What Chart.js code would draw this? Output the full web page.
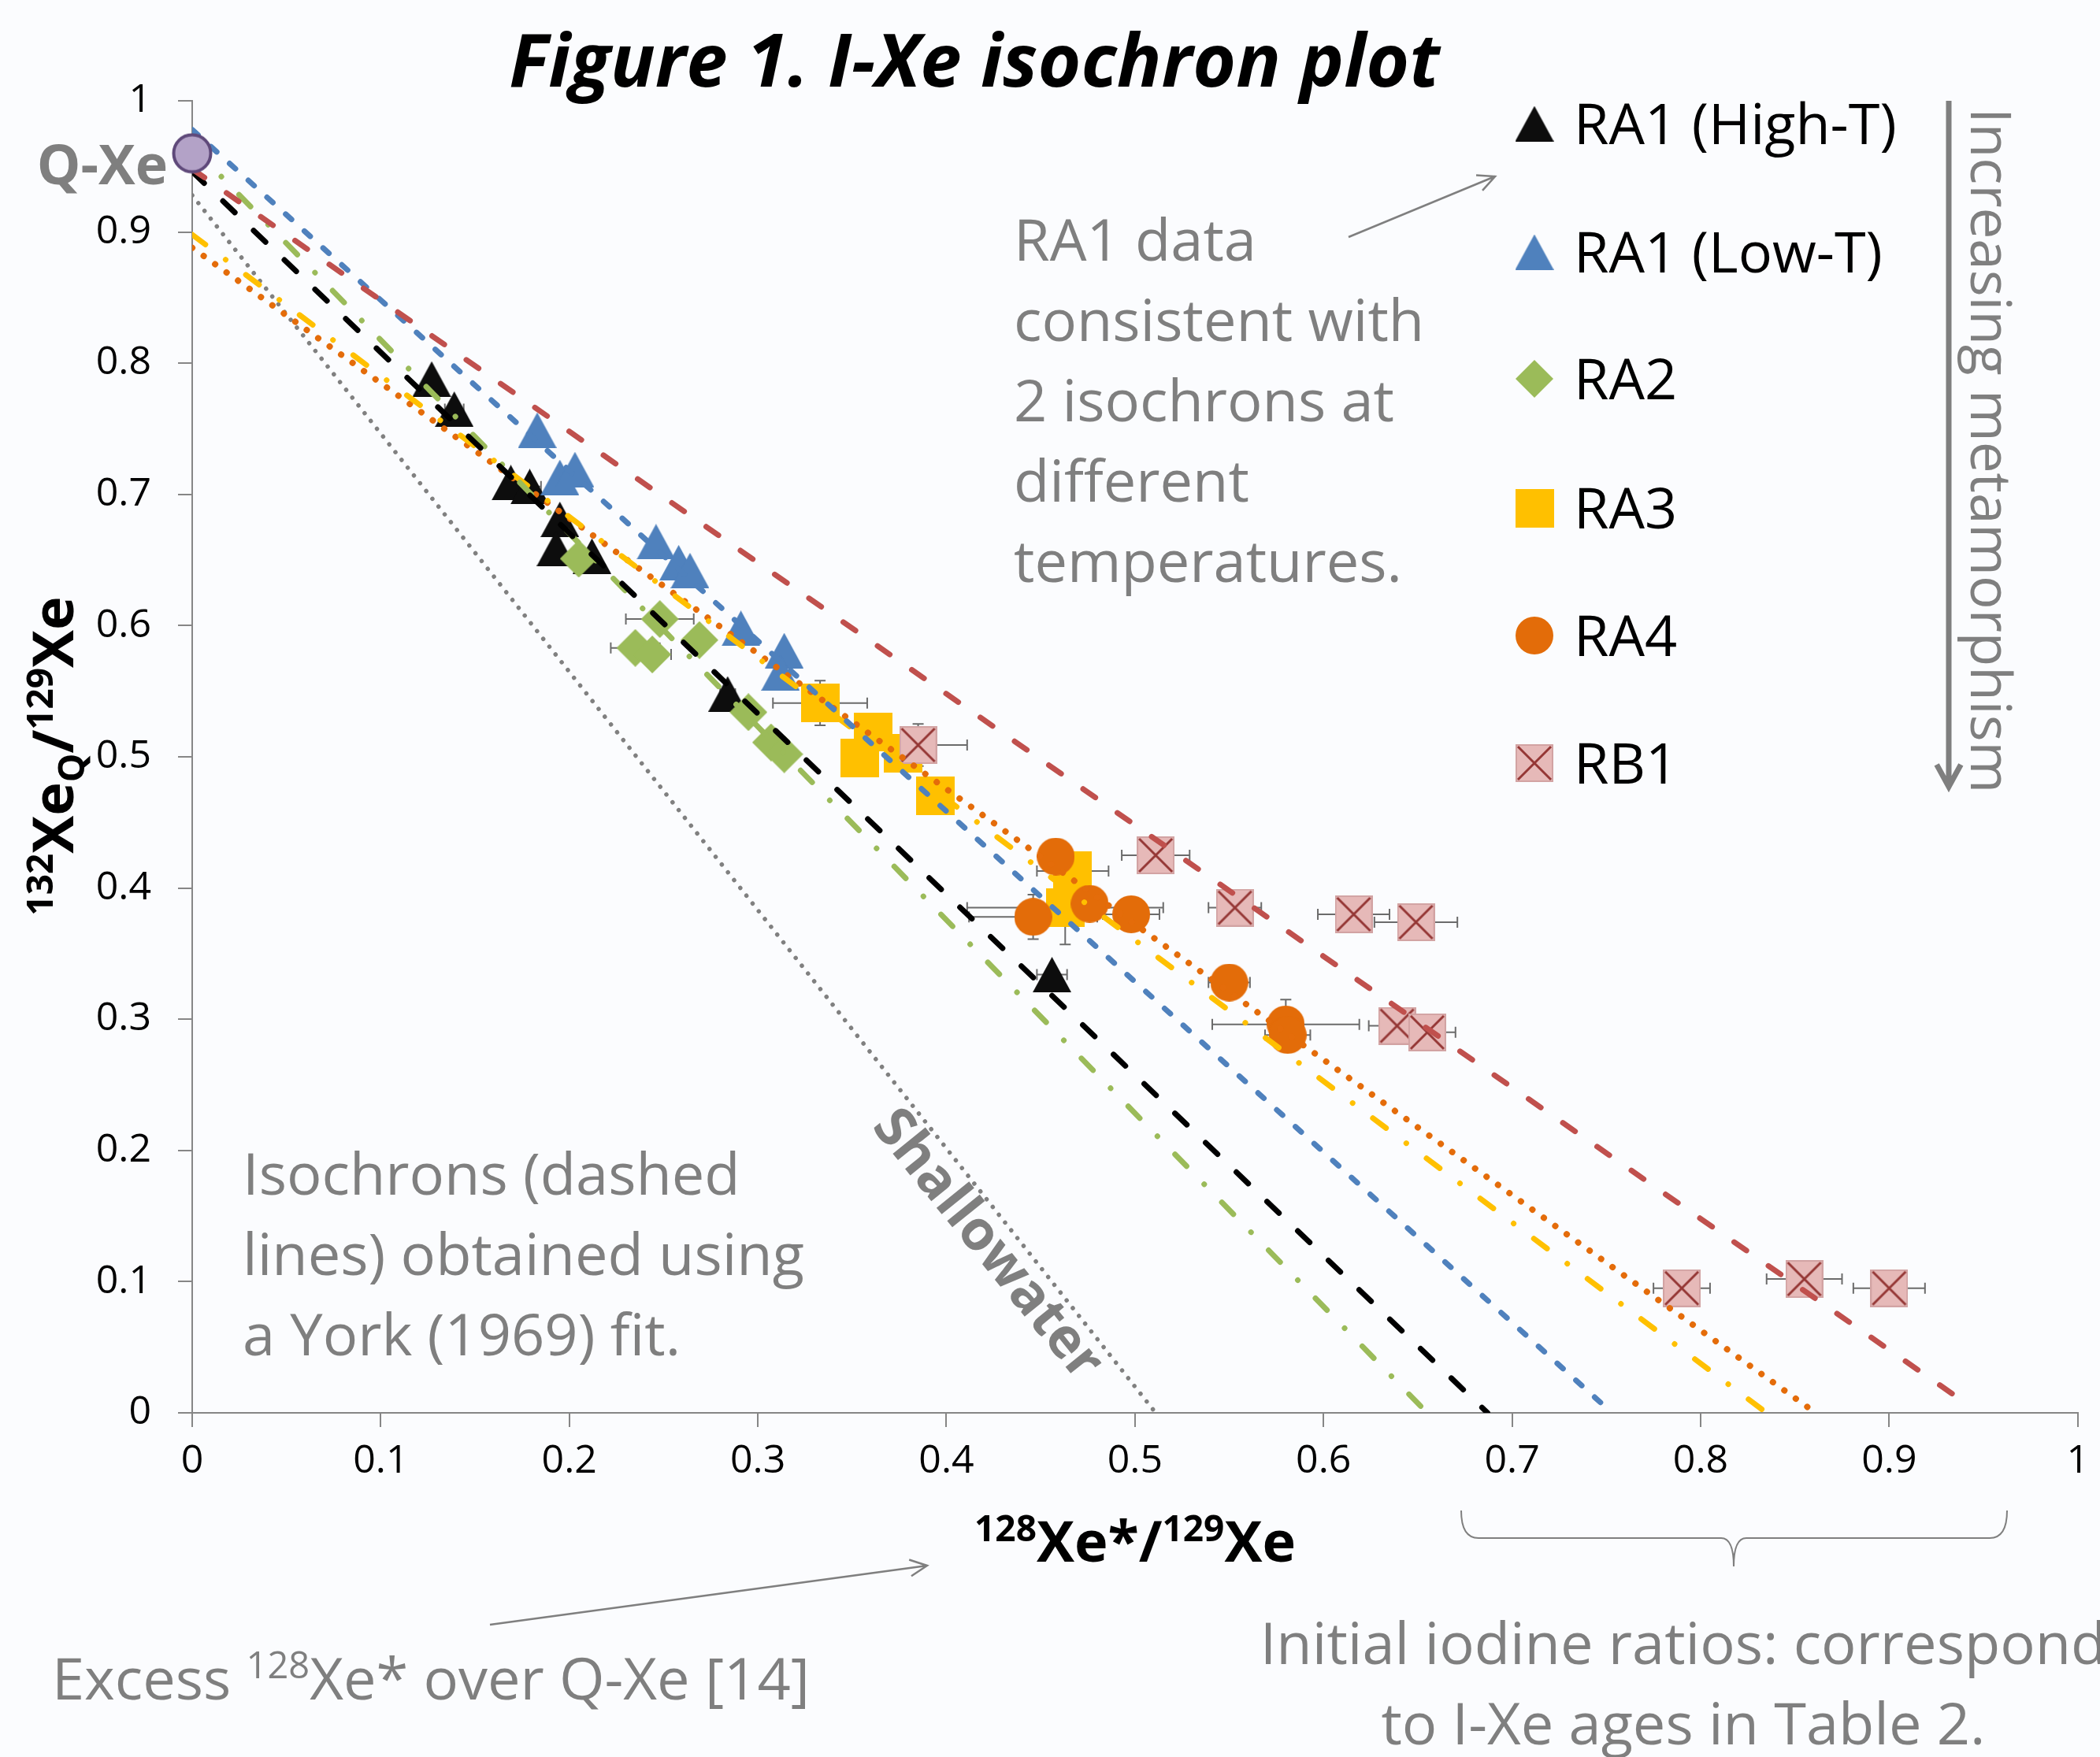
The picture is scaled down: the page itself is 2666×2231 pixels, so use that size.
<!DOCTYPE html>
<html>
<head>
<meta charset="utf-8">
<title>Figure 1. I-Xe isochron plot</title>
<script src="https://cdn.jsdelivr.net/npm/chart.js@4.4.1/dist/chart.umd.min.js"></script>
<style>
    html, body { margin: 0; padding: 0; background: #fbfcfe; }
    #wrap { width: 2666px; height: 2231px; }
</style>
</head>
<body>
<div id="wrap"><canvas id="isochronChart" width="2666" height="2231"></canvas></div>
<script>
// ---- values ----
const tickLabels = ['0', '0.1', '0.2', '0.3', '0.4', '0.5', '0.6', '0.7', '0.8', '0.9', '1'];
const seriesNames = ['RA1 (High-T)', 'RA1 (Low-T)', 'RA2', 'RA3', 'RA4', 'RB1'];

const highTX = [0.127, 0.139, 0.169, 0.179, 0.195, 0.193, 0.212, 0.284, 0.456];
const highTY = [0.788, 0.765, 0.709, 0.706, 0.681, 0.659, 0.653, 0.548, 0.334];
const highTXErr = [0, 0.005, 0, 0.006, 0, 0, 0, 0.004, 0.008];

const lowTX = [0.183, 0.195, 0.203, 0.246, 0.258, 0.264, 0.291, 0.314, 0.312];
const lowTY = [0.749, 0.713, 0.719, 0.664, 0.648, 0.642, 0.598, 0.581, 0.564];

const ra2X = [0.205, 0.248, 0.235, 0.244, 0.269, 0.295, 0.307, 0.314];
const ra2Y = [0.651, 0.605, 0.583, 0.578, 0.589, 0.534, 0.511, 0.502];
const ra2XErr = [0, 0.018, 0.013, 0.010, 0, 0, 0, 0];

const ra3X = [0.333, 0.361, 0.354, 0.377, 0.394, 0.467, 0.463];
const ra3Y = [0.541, 0.519, 0.499, 0.503, 0.470, 0.413, 0.385];
const ra3XErr = [0.025, 0, 0, 0, 0, 0.019, 0.052];
const ra3YErr = [0.017, 0, 0, 0, 0, 0, 0.028];

const ra4X = [0.458, 0.446, 0.476, 0.498, 0.550, 0.580, 0.581];
const ra4Y = [0.424, 0.378, 0.388, 0.380, 0.328, 0.296, 0.288];
const ra4XErr = [0, 0.034, 0, 0.015, 0.011, 0.039, 0.012];
const ra4YErr = [0, 0.017, 0, 0, 0, 0.019, 0];

const rb1X = [0.385, 0.511, 0.553, 0.616, 0.649, 0.639, 0.655, 0.790, 0.855, 0.900];
const rb1Y = [0.509, 0.425, 0.385, 0.380, 0.374, 0.295, 0.290, 0.095, 0.102, 0.095];
const rb1XErr = [0.026, 0.018, 0.014, 0.019, 0.022, 0.015, 0.015, 0.015, 0.020, 0.019];
const rb1YErr = [0.016, 0, 0, 0, 0, 0, 0, 0, 0, 0];

const qXeX = [0];
const qXeY = [0.960];

// isochrons: start at x = 0, end where the fitted line stops
const isoNames = ['RB1', 'RA1 (Low-T)', 'RA1 (High-T)', 'RA2', 'RA3', 'RA4', 'Shallowater'];
const isoStartY = [0.948, 0.978, 0.946, 0.965, 0.898, 0.888, 0.928];
const isoEndX = [0.937, 0.753, 0.687, 0.655, 0.835, 0.861, 0.511];
const isoEndY = [0.011, 0, 0, 0, 0, 0, 0];

// ---- styles ----
const FONT = "'Open Sans', 'Noto Sans', sans-serif";
const GREY = '#7f7f7f';
const AXIS = '#868686';

const isoStyles = [
    { color: '#c0504d', dash: [19, 34], width: 7 },
    { color: '#4f81bd', dash: [10, 22], width: 7 },
    { color: '#000000', dash: [21, 33], width: 7 },
    { color: '#9bbb59', dash: [21, 32, 0.1, 32], width: 7 },
    { color: '#ffc000', dash: [21, 32, 0.1, 32], width: 7 },
    { color: '#e46c0a', dash: [0.1, 17.8], width: 8 },
    { color: '#808080', dash: [0.1, 12.5], width: 5.5 }
];

/**
 * Builds a marker bitmap used as a Chart.js pointStyle
 */
function makeMarker(shape, w, h, fill) {
    const c = document.createElement('canvas');
    c.width = w;
    c.height = h;
    const g = c.getContext('2d');
    g.fillStyle = fill;
    g.beginPath();
    if (shape === 'triangle') {
        g.moveTo(w / 2, 0);
        g.lineTo(w, h);
        g.lineTo(0, h);
        g.closePath();
        g.fill();
    } else if (shape === 'diamond') {
        g.moveTo(w / 2, 0);
        g.lineTo(w, h / 2);
        g.lineTo(w / 2, h);
        g.lineTo(0, h / 2);
        g.closePath();
        g.fill();
    } else if (shape === 'circle') {
        g.arc(w / 2, h / 2, w / 2, 0, Math.PI * 2);
        g.fill();
    } else if (shape === 'square') {
        g.fillRect(0, 0, w, h);
    } else if (shape === 'xsquare') {
        g.fillRect(0, 0, w, h);
        g.strokeStyle = '#d2a3a3';
        g.lineWidth = 2;
        g.strokeRect(1, 1, w - 2, h - 2);
        g.strokeStyle = '#953735';
        g.lineWidth = 3;
        g.beginPath();
        g.moveTo(3, 3); g.lineTo(w - 3, h - 3);
        g.moveTo(w - 3, 3); g.lineTo(3, h - 3);
        g.stroke();
    } else if (shape === 'qxe') {
        g.arc(w / 2, h / 2, w / 2 - 2.5, 0, Math.PI * 2);
        g.fill();
        g.strokeStyle = '#5f497a';
        g.lineWidth = 4;
        g.stroke();
    }
    return c;
}

const markers = {
    highT: makeMarker('triangle', 49, 45, '#0d0d0d'),
    lowT: makeMarker('triangle', 49, 45, '#4f81bd'),
    ra2: makeMarker('diamond', 48, 48, '#9bbb59'),
    ra3: makeMarker('square', 49, 49, '#ffc000'),
    ra4: makeMarker('circle', 48, 48, '#e36c09'),
    rb1: makeMarker('xsquare', 48, 48, '#e6b9b8'),
    qxe: makeMarker('qxe', 52, 52, '#b3a2c7')
};

function pts(xs, ys) {
    return xs.map((x, i) => ({ x: x, y: ys[i] }));
}

function seriesSet(label, xs, ys, marker, errX, errY) {
    return {
        label: label,
        data: pts(xs, ys),
        pointStyle: marker,
        pointRadius: 24,
        errX: errX || null,
        errY: errY || null
    };
}

// first dataset is drawn on top
const datasets = [];
datasets.push({ label: 'Q-Xe', data: pts(qXeX, qXeY), pointStyle: markers.qxe, pointRadius: 25, clip: false });
isoNames.forEach((name, i) => {
    datasets.push({
        label: name + ' isochron',
        data: [{ x: 0, y: isoStartY[i] }, { x: isoEndX[i], y: isoEndY[i] }],
        showLine: true,
        pointRadius: 0,
        borderColor: isoStyles[i].color,
        borderWidth: isoStyles[i].width,
        borderDash: isoStyles[i].dash,
        borderCapStyle: 'round'
    });
});
datasets.push(seriesSet(seriesNames[5], rb1X, rb1Y, markers.rb1, rb1XErr, rb1YErr));
datasets.push(seriesSet(seriesNames[4], ra4X, ra4Y, markers.ra4, ra4XErr, ra4YErr));
datasets.push(seriesSet(seriesNames[3], ra3X, ra3Y, markers.ra3, ra3XErr, ra3YErr));
datasets.push(seriesSet(seriesNames[2], ra2X, ra2Y, markers.ra2, ra2XErr));
datasets.push(seriesSet(seriesNames[1], lowTX, lowTY, markers.lowT));
datasets.push(seriesSet(seriesNames[0], highTX, highTY, markers.highT, highTXErr));

const legendMarkers = [markers.highT, markers.lowT, markers.ra2, markers.ra3, markers.ra4, markers.rb1];

// ---- plugins ----
const background = {
    id: 'background',
    beforeDraw(chart) {
        const c = chart.ctx;
        c.save();
        c.fillStyle = '#fbfcfe';
        c.fillRect(0, 0, chart.width, chart.height);
        c.restore();
    }
};

const errorBars = {
    id: 'errorBars',
    beforeDatasetsDraw(chart) {
        const c = chart.ctx;
        const xs = chart.scales.x;
        const ys = chart.scales.y;
        const cap = 7;
        c.save();
        c.strokeStyle = '#6b6b6b';
        c.lineWidth = 2;
        chart.data.datasets.forEach(ds => {
            ds.data.forEach((p, i) => {
                const px = xs.getPixelForValue(p.x);
                const py = ys.getPixelForValue(p.y);
                const ex = ds.errX ? ds.errX[i] : 0;
                const ey = ds.errY ? ds.errY[i] : 0;
                c.beginPath();
                if (ex) {
                    const l = xs.getPixelForValue(p.x - ex);
                    const r = xs.getPixelForValue(p.x + ex);
                    c.moveTo(l, py); c.lineTo(r, py);
                    c.moveTo(l, py - cap); c.lineTo(l, py + cap);
                    c.moveTo(r, py - cap); c.lineTo(r, py + cap);
                }
                if (ey) {
                    const t = ys.getPixelForValue(p.y + ey);
                    const b = ys.getPixelForValue(p.y - ey);
                    c.moveTo(px, t); c.lineTo(px, b);
                    c.moveTo(px - cap, t); c.lineTo(px + cap, t);
                    c.moveTo(px - cap, b); c.lineTo(px + cap, b);
                }
                c.stroke();
            });
        });
        c.restore();
    }
};

/**
 * Draws text with superscript / subscript pieces: parts = [[text, 'sup'|'sub'|''], ...]
 */
function drawRich(c, parts, x, y, size, weight, align) {
    const small = Math.round(size * 0.64);
    const widths = parts.map(([t, k]) => {
        c.font = weight + ' ' + (k ? small : size) + 'px ' + FONT;
        return c.measureText(t).width;
    });
    const total = widths.reduce((a, b) => a + b, 0);
    let cx = align === 'center' ? x - total / 2 : (align === 'right' ? x - total : x);
    c.textAlign = 'left';
    c.textBaseline = 'alphabetic';
    parts.forEach(([t, k], i) => {
        c.font = weight + ' ' + (k ? small : size) + 'px ' + FONT;
        const dy = k === 'sup' ? -size * 0.36 : (k === 'sub' ? size * 0.2 : 0);
        c.fillText(t, cx, y + dy);
        cx += widths[i];
    });
}

function arrow(c, x1, y1, x2, y2, head, spread) {
    const a = Math.atan2(y2 - y1, x2 - x1);
    c.beginPath();
    c.moveTo(x1, y1);
    c.lineTo(x2, y2);
    c.moveTo(x2 - head * Math.cos(a - spread), y2 - head * Math.sin(a - spread));
    c.lineTo(x2, y2);
    c.lineTo(x2 - head * Math.cos(a + spread), y2 - head * Math.sin(a + spread));
    c.stroke();
}

const annotations = {
    id: 'annotations',
    afterDraw(chart) {
        const c = chart.ctx;
        c.save();

        // title
        c.fillStyle = '#000';
        c.font = 'italic bold 94px ' + FONT;
        c.textAlign = 'center';
        c.textBaseline = 'alphabetic';
        c.fillText('Figure 1. I-Xe isochron plot', 1237, 110);

        // axis titles
        drawRich(c, [['128', 'sup'], ['Xe', ''], ['*', ''], ['/', ''], ['129', 'sup'], ['Xe', '']], 1441, 1983, 72, 'bold', 'center');
        c.save();
        c.translate(93, 960);
        c.rotate(-Math.PI / 2);
        drawRich(c, [['132', 'sup'], ['Xe', ''], ['Q', 'sub'], ['/', ''], ['129', 'sup'], ['Xe', '']], 0, 0, 72, 'bold', 'center');
        c.restore();

        // legend
        const rows = [157, 320, 481, 645, 807, 969];
        seriesNames.forEach((name, i) => {
            const m = legendMarkers[i];
            c.drawImage(m, 1948 - m.width / 2, rows[i] - m.height / 2);
            c.fillStyle = '#000';
            c.font = '72px ' + FONT;
            c.textAlign = 'left';
            c.fillText(name, 1998, rows[i] + 26);
        });

        c.fillStyle = GREY;
        c.strokeStyle = GREY;

        // Q-Xe label
        c.font = 'bold 70px ' + FONT;
        c.textAlign = 'right';
        c.fillText('Q-Xe', 213, 234);

        // grey notes
        c.font = '74px ' + FONT;
        c.textAlign = 'left';
        ['RA1 data', 'consistent with', '2 isochrons at', 'different', 'temperatures.'].forEach((t, i) => {
            c.fillText(t, 1287, 331 + i * 102);
        });
        ['Isochrons (dashed', 'lines) obtained using', 'a York (1969) fit.'].forEach((t, i) => {
            c.fillText(t, 308, 1517 + i * 102);
        });
        drawRich(c, [['Excess ', ''], ['128', 'sup'], ['Xe* over Q-Xe [14]', '']], 66, 2158, 74, 'normal', 'left');
        c.fillStyle = GREY;
        c.font = '74px ' + FONT;
        c.textAlign = 'center';
        c.fillText('Initial iodine ratios: correspond', 2137, 2113);
        c.fillText('to I-Xe ages in Table 2.', 2137, 2215);

        // thin arrows
        c.lineWidth = 2.5;
        arrow(c, 1712, 301, 1898, 224, 24, 0.45);
        arrow(c, 622, 2063, 1177, 1988, 24, 0.45);

        // brace under the initial ratios
        c.lineWidth = 2;
        c.beginPath();
        c.moveTo(1855, 1918);
        c.quadraticCurveTo(1855, 1953, 1877, 1953);
        c.lineTo(2185, 1953);
        c.quadraticCurveTo(2201, 1953, 2201, 1989);
        c.quadraticCurveTo(2201, 1953, 2217, 1953);
        c.lineTo(2526, 1953);
        c.quadraticCurveTo(2548, 1953, 2548, 1918);
        c.stroke();

        // increasing metamorphism arrow + label
        c.lineWidth = 7;
        arrow(c, 2474, 128, 2474, 999, 32, 0.5);
        c.save();
        c.translate(2502, 137);
        c.rotate(Math.PI / 2);
        c.font = '71px ' + FONT;
        c.textAlign = 'left';
        c.textBaseline = 'alphabetic';
        c.fillText('Increasing metamorphism', 0, 0);
        c.restore();

        // Shallowater label along the dotted line
        c.save();
        c.translate(1253, 1581);
        c.rotate(51 * Math.PI / 180);
        c.font = 'bold 70px ' + FONT;
        c.textAlign = 'center';
        c.textBaseline = 'middle';
        c.fillText('Shallowater', 0, 0);
        c.restore();

        c.restore();
    }
};

// ---- chart ----
const axisTicks = {
    stepSize: 0.1,
    autoSkip: false,
    maxRotation: 0,
    color: '#000',
    font: { family: FONT, size: 50 },
    callback: (value, index) => tickLabels[index]
};

const isoChart = new Chart(document.getElementById('isochronChart'), {
    type: 'scatter',
    data: { datasets: datasets },
    options: {
        responsive: false,
        animation: false,
        devicePixelRatio: 1,
        events: [],
        layout: { padding: { left: 0, top: 128, right: 22, bottom: 317 } },
        plugins: {
            legend: { display: false },
            tooltip: { enabled: false }
        },
        scales: {
            x: {
                type: 'linear',
                min: 0,
                max: 1,
                afterFit: (axis) => { axis.height = 120; },
                ticks: Object.assign({}, axisTicks, { padding: 14 }),
                grid: { drawOnChartArea: false, drawTicks: true, tickLength: 18, color: AXIS, lineWidth: 2 },
                border: { display: true, color: AXIS, width: 2 }
            },
            y: {
                type: 'linear',
                min: 0,
                max: 1,
                afterFit: (axis) => { axis.width = 244; },
                ticks: Object.assign({}, axisTicks, { padding: 34 }),
                grid: { drawOnChartArea: false, drawTicks: true, tickLength: 18, color: AXIS, lineWidth: 2 },
                border: { display: true, color: AXIS, width: 2 }
            }
        }
    },
    plugins: [background, errorBars, annotations]
});
</script>
</body>
</html>
